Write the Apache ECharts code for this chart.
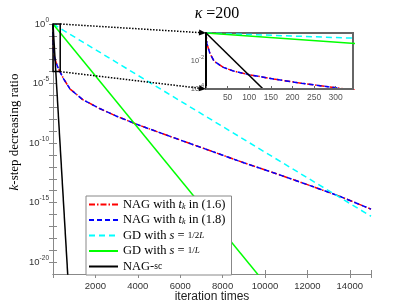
<!DOCTYPE html>
<html><head><meta charset="utf-8">
<script src="https://cdn.jsdelivr.net/npm/echarts@6/dist/echarts.min.js"></script>
<style>html,body{margin:0;padding:0;background:#fff}#c{width:411px;height:308px}</style>
</head><body><div id="c"></div>
<script>
// ---- data ----
const nagIter  = [0, 2, 9, 19, 40, 64, 100, 156, 220, 311, 500, 800, 1400, 2200, 3000, 4000, 5000, 6000, 7500, 9000, 10500, 12000, 13500, 15000];
const nagRatio = [1, 0.18, 0.035, 9.5e-3, 3.5e-3, 1.9e-3, 1.05e-3, 5.2e-4, 2.6e-4, 1.1e-4, 2.5e-5, 3.5e-6, 4.5e-7, 7.9e-8, 1.8e-8, 3.5e-9, 7.9e-10, 1.8e-10, 2.0e-11, 2.2e-12, 2.8e-13, 3.2e-14, 3.5e-15, 2.8e-16];
const gdHalfIter  = [0, 15000];
const gdHalfRatio = [1, 7.1e-17];
const gdIter  = [0, 10000];
const gdRatio = [1, 1.7e-22];
const nagscIter  = [0, 700];
const nagscRatio = [1, 6.3e-22];
const seriesKeys = ['nag16', 'nag18', 'gd2', 'gd1', 'nagsc'];
const legendTexts = [
  'NAG with {i|t}{sub|k} in (1.6)',
  'NAG with {i|t}{sub|k} in (1.8)',
  'GD with {i|s} = {fr|1/2}{fri|L}',
  'GD with {i|s} = {fr|1/}{fri|L}',
  'NAG-{sc|sc}'
];
const titleText = '{k|κ} =200';
const xName = 'iteration times';
const yName = '{i|k}-step decreasing ratio';
const xTicks = {min: 0, max: 15000, step: 2000};
const insetX = {min: 0, max: 340, step: 50};
const mainY = {min: 1e-21, max: 1};
const insetY = {min: 1e-4, max: 1};

const serif = 'Liberation Serif';
const sans = 'Liberation Sans';
const pairs = (xs, ys) => xs.map((x, i) => [x, ys[i]]);
const dataSets = [
  pairs(nagIter, nagRatio), pairs(nagIter, nagRatio),
  pairs(gdHalfIter, gdHalfRatio), pairs(gdIter, gdRatio), pairs(nagscIter, nagscRatio)
];
const colors = ['#ff0000', '#0000ff', '#00ffff', '#00ff00', '#000000'];
const dashes = [[6, 2, 1.5, 2], [5, 3], [6, 4], 'solid', 'solid'];

function expLabel(every, hideZero) {
  return function (v) {
    const e = Math.log10(v), r = Math.round(e);
    if (Math.abs(e - r) > 1e-6) return '';
    if (r % every !== 0) return '';
    if (hideZero && r === 0) return '';
    return '{b|10}{s|' + r + '}';
  };
}
function richExp(sizeB, sizeS, color) {
  return {
    b: {fontFamily: sans, fontSize: sizeB, color: color, lineHeight: sizeB + 6, verticalAlign: 'middle'},
    s: {fontFamily: sans, fontSize: sizeS, color: color, lineHeight: sizeS + 1, verticalAlign: 'top'}
  };
}

const tickCol = '#888';
const series = [];
seriesKeys.forEach((k, i) => {
  series.push({
    name: k, type: 'line', xAxisIndex: 0, yAxisIndex: 0, data: dataSets[i],
    symbol: 'none', z: 2 + i * 0.1,
    lineStyle: {color: colors[i], width: 1.5, type: dashes[i]}, itemStyle: {color: colors[i]}
  });
});
seriesKeys.forEach((k, i) => {
  series.push({
    name: 'inset_' + k, type: 'line', xAxisIndex: 2, yAxisIndex: 2, data: dataSets[i],
    symbol: 'none', z: 10 + i * 0.1,
    lineStyle: {color: colors[i], width: 1.5, type: dashes[i]}, itemStyle: {color: colors[i]}
  });
});

const legendMap = {};
seriesKeys.forEach((k, i) => legendMap[k] = legendTexts[i]);

const option = {
  animation: false,
  backgroundColor: '#fff',
  title: {
    text: titleText, left: 212, top: 1, textAlign: 'center',
    textStyle: {fontFamily: serif, fontSize: 16, fontWeight: 'normal', color: '#000',
      rich: {k: {fontFamily: serif, fontSize: 16, fontStyle: 'italic', color: '#000'}}}
  },
  grid: [
    {left: 53, top: 24, right: 40, bottom: 34, show: false, containLabel: false, outerBoundsMode: 'none'},
    {left: 206, top: 33, right: 58, bottom: 219, show: true, backgroundColor: '#fff', borderColor: '#666', borderWidth: 2, z: 8,
     containLabel: false, outerBoundsMode: 'none'}
  ],
  legend: {
    data: seriesKeys, orient: 'vertical', left: 86, top: 196,
    padding: [2, 6, 2, 2], itemGap: 2.5, itemWidth: 29, itemHeight: 12,
    borderColor: '#888', borderWidth: 1, backgroundColor: '#fff',
    itemStyle: {opacity: 0},
    formatter: n => legendMap[n],
    textStyle: {fontFamily: serif, fontSize: 12.5, color: '#000', lineHeight: 12,
      rich: {
        i: {fontFamily: serif, fontSize: 12.5, fontStyle: 'italic', color: '#000'},
        sub: {fontFamily: serif, fontSize: 8, fontStyle: 'italic', color: '#000', verticalAlign: 'bottom', lineHeight: 8},
        fr: {fontFamily: serif, fontSize: 9, color: '#000'},
        fri: {fontFamily: serif, fontSize: 9, fontStyle: 'italic', color: '#000'},
        sc: {fontFamily: serif, fontSize: 9.5, color: '#000'}
      }}
  },
  xAxis: [
    {gridIndex: 0, type: 'value', min: xTicks.min, max: xTicks.max, interval: xTicks.step,
     axisLine: {show: true, lineStyle: {color: tickCol, width: 1}},
     axisTick: {show: true, inside: true, length: 4, lineStyle: {color: tickCol}},
     axisLabel: {fontFamily: sans, fontSize: 9.5, color: '#333', margin: 7,
       formatter: v => (v === xTicks.min || v === xTicks.max) ? '' : String(v)},
     splitLine: {show: false},
     name: xName, nameLocation: 'middle', nameGap: 17, nameMoveOverlap: false,
     nameTextStyle: {fontFamily: sans, fontSize: 12, color: '#222'}},
    {gridIndex: 0, type: 'value', position: 'top', min: xTicks.min, max: xTicks.max, interval: xTicks.step,
     axisLine: {show: true, lineStyle: {color: tickCol, width: 1}},
     axisTick: {show: true, inside: true, length: 4, lineStyle: {color: tickCol}},
     axisLabel: {show: false}, splitLine: {show: false}},
    {gridIndex: 1, type: 'value', min: insetX.min, max: insetX.max, interval: insetX.step, z: 12,
     axisLine: {show: true, lineStyle: {color: '#666', width: 2}},
     axisTick: {show: true, inside: true, length: 3, lineStyle: {color: '#666'}},
     axisLabel: {fontFamily: sans, fontSize: 8.5, color: '#555', margin: 4,
       formatter: v => (v === insetX.min || v === insetX.max) ? '' : String(v)},
     splitLine: {show: false}}
  ],
  yAxis: [
    {gridIndex: 0, type: 'log', min: mainY.min, max: mainY.max, interval: 1,
     axisLine: {show: true, lineStyle: {color: tickCol, width: 1}},
     axisTick: {show: true, inside: true, length: 4, lineStyle: {color: tickCol}},
     axisLabel: {margin: 4, formatter: expLabel(5, false), rich: richExp(9.5, 6.5, '#333')},
     splitLine: {show: false},
     name: yName, nameLocation: 'middle', nameGap: 32, nameMoveOverlap: false,
     nameTextStyle: {fontFamily: serif, fontSize: 13, color: '#000', padding: [0, 0, 0, 34],
       rich: {i: {fontFamily: serif, fontSize: 13, fontStyle: 'italic', color: '#000'}}}},
    {gridIndex: 0, type: 'log', position: 'right', min: mainY.min, max: mainY.max, interval: 1,
     axisLine: {show: true, lineStyle: {color: tickCol, width: 1}},
     axisTick: {show: true, inside: true, length: 4, lineStyle: {color: tickCol}},
     axisLabel: {show: false}, splitLine: {show: false}},
    {gridIndex: 1, type: 'log', min: insetY.min, max: insetY.max, interval: 1, z: 12,
     axisLine: {show: true, lineStyle: {color: '#000', width: 2}},
     axisTick: {show: false},
     axisLabel: {margin: 2, showMinLabel: true, hideOverlap: false, formatter: expLabel(2, true), rich: richExp(7.5, 5.5, '#555')},
     splitLine: {show: false}}
  ],
  series: series
};

const chart = echarts.init(document.getElementById('c'), null, {renderer: 'canvas'});
chart.setOption(option);

// annotation: zoom box and dotted arrows, positioned via the axes
const m = v => chart.convertToPixel({xAxisIndex: 0, yAxisIndex: 0}, v);
const n = v => chart.convertToPixel({xAxisIndex: 2, yAxisIndex: 2}, v);
const boxTL = m([insetX.min, insetY.max]);
const boxBR = m([insetX.max, insetY.min]);
const inTL = n([insetX.min, insetY.max]);
const inBL = n([insetX.min, insetY.min]);
function arrow(p0, p1) {
  const dx = p1[0] - p0[0], dy = p1[1] - p0[1], L = Math.hypot(dx, dy);
  const ux = dx / L, uy = dy / L, hl = 7, hw = 3;
  const b = [p1[0] - ux * hl, p1[1] - uy * hl];
  return [
    {type: 'line', z: 20, shape: {x1: p0[0], y1: p0[1], x2: b[0], y2: b[1]},
     style: {stroke: '#000', lineWidth: 1.5, lineDash: [1.5, 1.5]}},
    {type: 'polygon', z: 20, shape: {points: [p1, [b[0] - uy * hw, b[1] + ux * hw], [b[0] + uy * hw, b[1] - ux * hw]]},
     style: {fill: '#000'}}
  ];
}
const g = [
  {type: 'rect', z: 20, shape: {x: boxTL[0], y: boxTL[1], width: boxBR[0] - boxTL[0], height: boxBR[1] - boxTL[1]},
   style: {fill: 'none', stroke: '#000', lineWidth: 1.5}}
].concat(arrow([boxBR[0], boxTL[1]], inTL), arrow(boxBR, inBL));
chart.setOption({graphic: g});
</script></body></html>
